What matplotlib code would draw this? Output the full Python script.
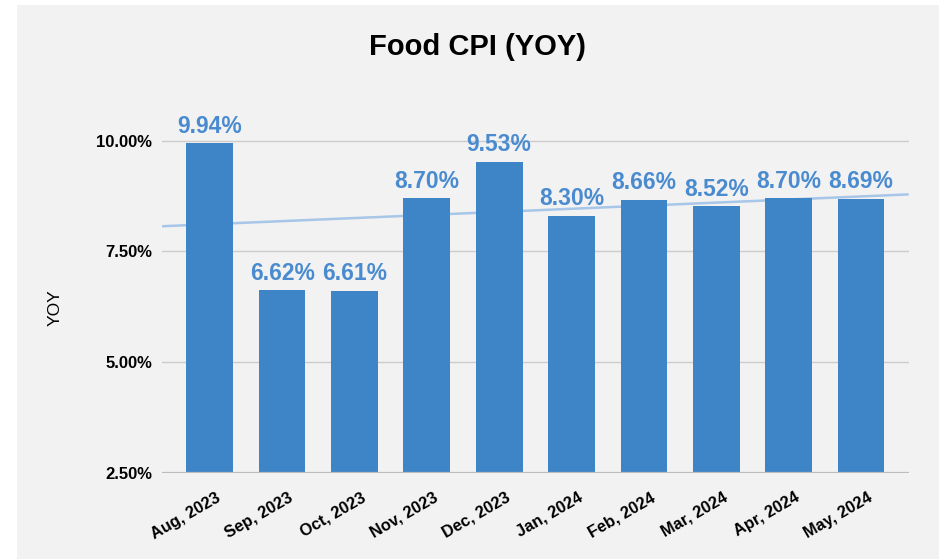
import numpy as np
import matplotlib
matplotlib.use('Agg')
import matplotlib.pyplot as plt
from matplotlib.patches import Rectangle
from matplotlib.transforms import ScaledTranslation

months = ['Aug, 2023', 'Sep, 2023', 'Oct, 2023', 'Nov, 2023', 'Dec, 2023',
          'Jan, 2024', 'Feb, 2024', 'Mar, 2024', 'Apr, 2024', 'May, 2024']
yoy = [9.94, 6.62, 6.61, 8.70, 9.53, 8.30, 8.66, 8.52, 8.70, 8.69]
yticks = [2.5, 5.0, 7.5, 10.0]

plt.rcParams['font.family'] = ['Liberation Sans', 'DejaVu Sans']

fig = plt.figure(figsize=(9.39, 5.59), dpi=100, facecolor='white')
# gray card behind the chart (white strip left and top)
fig.add_artist(Rectangle((17/939, 0), 1, 1 - 5/559, transform=fig.transFigure,
                         facecolor='#f2f2f2', edgecolor='none', zorder=-10))

ax = fig.add_axes([162/939, 1 - 472.7/559, (908.7 - 162)/939, (472.7 - 90)/559])
ax.set_facecolor('none')

x = np.arange(len(yoy))
base = yticks[0]
vals = np.array(yoy)

# --- bars from the 2.5% floor
ax.bar(x, vals - base, bottom=base, width=0.645, color='#3d85c6', zorder=3)

# --- linear trend line over the whole axis
k, b = np.polyfit(x, vals, 1)
xl = np.array([-0.66, len(yoy) - 1 + 0.66])
ax.plot(xl, k*xl + b, color='#a7c6e8', lw=1.8, zorder=2, solid_capstyle='butt')

# --- value labels
for xi, v in zip(x, yoy):
    ax.annotate('%.2f%%' % v, (xi, v), xytext=(0, 4), textcoords='offset points',
                ha='center', va='bottom', fontsize=16.5, fontweight='bold',
                color='#4a8bd0', zorder=5)

ax.set_xlim(-0.66, len(yoy) - 1 + 0.66)
ax.set_ylim(base, 10 + (140.7 - 90)/44.27)
ax.set_yticks(yticks)
ax.set_yticklabels(['%.2f%%' % t for t in yticks], fontsize=12, fontweight='bold')
ax.tick_params(axis='y', length=0, pad=7)
ax.grid(axis='y', color='#cccccc', lw=1, zorder=0)
for s in ax.spines.values():
    s.set_visible(False)
ax.axhline(base, color='#bdbdbd', lw=1.6, zorder=4)

ax.set_xticks(x)
ax.set_xticklabels(months, rotation=30, ha='right', va='center',
                   rotation_mode='anchor', fontsize=11.8, fontweight='bold')
ax.tick_params(axis='x', length=0, pad=17)
for lab in ax.get_xticklabels():
    lab.set_transform(lab.get_transform() + ScaledTranslation(0.10, 0, fig.dpi_scale_trans))

fig.text(477/939, 1 - 47/559, 'Food CPI (YOY)', ha='center', va='center',
         fontsize=21, fontweight='bold')
fig.text(55/939, 1 - 308/559, 'YOY', rotation=90, ha='center', va='center', fontsize=12.5)

fig.savefig('out.png', dpi=100, facecolor=fig.get_facecolor())
